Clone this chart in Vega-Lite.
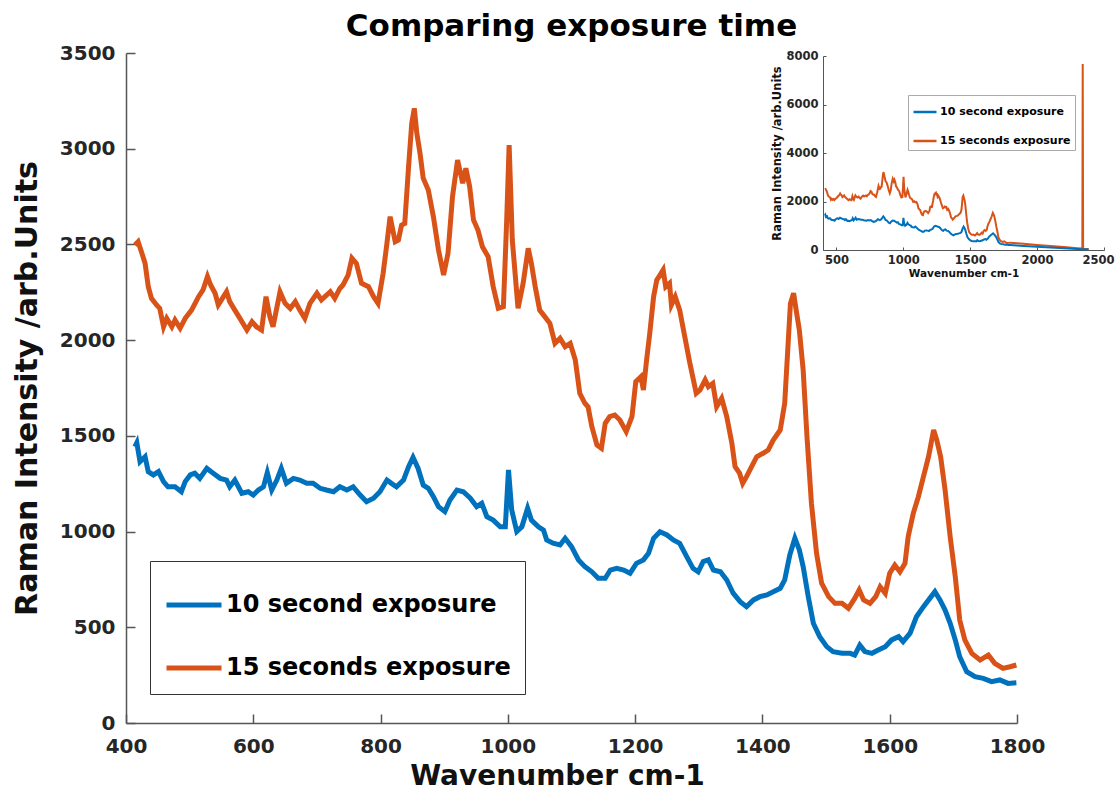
{
  "$schema": "https://vega.github.io/schema/vega-lite/v6.json",
  "width": 891,
  "height": 670,
  "autosize": {"type": "none"},
  "padding": {"left": 126, "top": 53, "right": 99, "bottom": 77},
  "background": "white",
  "title": {"text": "Comparing exposure time", "font": "DejaVu Sans", "fontSize": 31, "fontWeight": "bold", "color": "black", "anchor": "middle", "frame": "group", "dx": 0, "dy": 39, "baseline": "bottom", "offset": 8},
  "config": {
    "view": {"stroke": null},
    "axis": {"grid": false, "format": "d", "labelFont": "DejaVu Sans", "labelFontWeight": "bold", "titleFont": "DejaVu Sans", "titleFontWeight": "bold", "labelColor": "#262626", "titleColor": "#111111", "domainColor": "#555555", "tickColor": "#555555", "labelFlush": false, "labelOverlap": false},
    "legend": {"labelFont": "DejaVu Sans", "labelFontWeight": "bold", "labelColor": "black", "symbolType": "stroke", "fillColor": "white", "labelLimit": 0}
  },
  "data": {"values": [
    {"series": "15 seconds exposure", "wavenumber": 414, "intensity": 2497},
    {"series": "15 seconds exposure", "wavenumber": 419, "intensity": 2514},
    {"series": "15 seconds exposure", "wavenumber": 425, "intensity": 2454},
    {"series": "15 seconds exposure", "wavenumber": 430, "intensity": 2401},
    {"series": "15 seconds exposure", "wavenumber": 435, "intensity": 2279},
    {"series": "15 seconds exposure", "wavenumber": 440, "intensity": 2218},
    {"series": "15 seconds exposure", "wavenumber": 448, "intensity": 2184},
    {"series": "15 seconds exposure", "wavenumber": 453, "intensity": 2166},
    {"series": "15 seconds exposure", "wavenumber": 459, "intensity": 2070},
    {"series": "15 seconds exposure", "wavenumber": 464, "intensity": 2114},
    {"series": "15 seconds exposure", "wavenumber": 472, "intensity": 2070},
    {"series": "15 seconds exposure", "wavenumber": 477, "intensity": 2105},
    {"series": "15 seconds exposure", "wavenumber": 485, "intensity": 2062},
    {"series": "15 seconds exposure", "wavenumber": 493, "intensity": 2114},
    {"series": "15 seconds exposure", "wavenumber": 503, "intensity": 2157},
    {"series": "15 seconds exposure", "wavenumber": 514, "intensity": 2227},
    {"series": "15 seconds exposure", "wavenumber": 521, "intensity": 2262},
    {"series": "15 seconds exposure", "wavenumber": 528, "intensity": 2332},
    {"series": "15 seconds exposure", "wavenumber": 533, "intensity": 2288},
    {"series": "15 seconds exposure", "wavenumber": 540, "intensity": 2245},
    {"series": "15 seconds exposure", "wavenumber": 545, "intensity": 2184},
    {"series": "15 seconds exposure", "wavenumber": 550, "intensity": 2210},
    {"series": "15 seconds exposure", "wavenumber": 558, "intensity": 2253},
    {"series": "15 seconds exposure", "wavenumber": 563, "intensity": 2201},
    {"series": "15 seconds exposure", "wavenumber": 571, "intensity": 2157},
    {"series": "15 seconds exposure", "wavenumber": 579, "intensity": 2114},
    {"series": "15 seconds exposure", "wavenumber": 590, "intensity": 2053},
    {"series": "15 seconds exposure", "wavenumber": 598, "intensity": 2096},
    {"series": "15 seconds exposure", "wavenumber": 605, "intensity": 2070},
    {"series": "15 seconds exposure", "wavenumber": 613, "intensity": 2053},
    {"series": "15 seconds exposure", "wavenumber": 620, "intensity": 2227},
    {"series": "15 seconds exposure", "wavenumber": 626, "intensity": 2123},
    {"series": "15 seconds exposure", "wavenumber": 631, "intensity": 2070},
    {"series": "15 seconds exposure", "wavenumber": 642, "intensity": 2253},
    {"series": "15 seconds exposure", "wavenumber": 650, "intensity": 2192},
    {"series": "15 seconds exposure", "wavenumber": 658, "intensity": 2166},
    {"series": "15 seconds exposure", "wavenumber": 666, "intensity": 2201},
    {"series": "15 seconds exposure", "wavenumber": 673, "intensity": 2157},
    {"series": "15 seconds exposure", "wavenumber": 681, "intensity": 2114},
    {"series": "15 seconds exposure", "wavenumber": 689, "intensity": 2192},
    {"series": "15 seconds exposure", "wavenumber": 700, "intensity": 2245},
    {"series": "15 seconds exposure", "wavenumber": 707, "intensity": 2210},
    {"series": "15 seconds exposure", "wavenumber": 721, "intensity": 2253},
    {"series": "15 seconds exposure", "wavenumber": 728, "intensity": 2218},
    {"series": "15 seconds exposure", "wavenumber": 736, "intensity": 2270},
    {"series": "15 seconds exposure", "wavenumber": 741, "intensity": 2288},
    {"series": "15 seconds exposure", "wavenumber": 749, "intensity": 2340},
    {"series": "15 seconds exposure", "wavenumber": 755, "intensity": 2428},
    {"series": "15 seconds exposure", "wavenumber": 762, "intensity": 2401},
    {"series": "15 seconds exposure", "wavenumber": 770, "intensity": 2297},
    {"series": "15 seconds exposure", "wavenumber": 781, "intensity": 2279},
    {"series": "15 seconds exposure", "wavenumber": 789, "intensity": 2227},
    {"series": "15 seconds exposure", "wavenumber": 796, "intensity": 2192},
    {"series": "15 seconds exposure", "wavenumber": 804, "intensity": 2349},
    {"series": "15 seconds exposure", "wavenumber": 810, "intensity": 2506},
    {"series": "15 seconds exposure", "wavenumber": 815, "intensity": 2645},
    {"series": "15 seconds exposure", "wavenumber": 823, "intensity": 2514},
    {"series": "15 seconds exposure", "wavenumber": 828, "intensity": 2523},
    {"series": "15 seconds exposure", "wavenumber": 833, "intensity": 2601},
    {"series": "15 seconds exposure", "wavenumber": 838, "intensity": 2610},
    {"series": "15 seconds exposure", "wavenumber": 844, "intensity": 2906},
    {"series": "15 seconds exposure", "wavenumber": 849, "intensity": 3133},
    {"series": "15 seconds exposure", "wavenumber": 853, "intensity": 3211},
    {"series": "15 seconds exposure", "wavenumber": 857, "intensity": 3080},
    {"series": "15 seconds exposure", "wavenumber": 862, "intensity": 2976},
    {"series": "15 seconds exposure", "wavenumber": 867, "intensity": 2846},
    {"series": "15 seconds exposure", "wavenumber": 875, "intensity": 2784},
    {"series": "15 seconds exposure", "wavenumber": 883, "intensity": 2645},
    {"series": "15 seconds exposure", "wavenumber": 891, "intensity": 2471},
    {"series": "15 seconds exposure", "wavenumber": 899, "intensity": 2340},
    {"series": "15 seconds exposure", "wavenumber": 906, "intensity": 2454},
    {"series": "15 seconds exposure", "wavenumber": 913, "intensity": 2749},
    {"series": "15 seconds exposure", "wavenumber": 921, "intensity": 2941},
    {"series": "15 seconds exposure", "wavenumber": 929, "intensity": 2820},
    {"series": "15 seconds exposure", "wavenumber": 934, "intensity": 2898},
    {"series": "15 seconds exposure", "wavenumber": 940, "intensity": 2802},
    {"series": "15 seconds exposure", "wavenumber": 946, "intensity": 2628},
    {"series": "15 seconds exposure", "wavenumber": 953, "intensity": 2575},
    {"series": "15 seconds exposure", "wavenumber": 960, "intensity": 2488},
    {"series": "15 seconds exposure", "wavenumber": 969, "intensity": 2436},
    {"series": "15 seconds exposure", "wavenumber": 977, "intensity": 2279},
    {"series": "15 seconds exposure", "wavenumber": 985, "intensity": 2166},
    {"series": "15 seconds exposure", "wavenumber": 993, "intensity": 2175},
    {"series": "15 seconds exposure", "wavenumber": 998, "intensity": 2610},
    {"series": "15 seconds exposure", "wavenumber": 1002, "intensity": 3019},
    {"series": "15 seconds exposure", "wavenumber": 1007, "intensity": 2523},
    {"series": "15 seconds exposure", "wavenumber": 1016, "intensity": 2166},
    {"series": "15 seconds exposure", "wavenumber": 1024, "intensity": 2297},
    {"series": "15 seconds exposure", "wavenumber": 1032, "intensity": 2480},
    {"series": "15 seconds exposure", "wavenumber": 1037, "intensity": 2401},
    {"series": "15 seconds exposure", "wavenumber": 1043, "intensity": 2279},
    {"series": "15 seconds exposure", "wavenumber": 1050, "intensity": 2157},
    {"series": "15 seconds exposure", "wavenumber": 1058, "intensity": 2123},
    {"series": "15 seconds exposure", "wavenumber": 1066, "intensity": 2088},
    {"series": "15 seconds exposure", "wavenumber": 1074, "intensity": 1983},
    {"series": "15 seconds exposure", "wavenumber": 1082, "intensity": 2010},
    {"series": "15 seconds exposure", "wavenumber": 1090, "intensity": 1966},
    {"series": "15 seconds exposure", "wavenumber": 1098, "intensity": 1983},
    {"series": "15 seconds exposure", "wavenumber": 1106, "intensity": 1896},
    {"series": "15 seconds exposure", "wavenumber": 1113, "intensity": 1722},
    {"series": "15 seconds exposure", "wavenumber": 1121, "intensity": 1670},
    {"series": "15 seconds exposure", "wavenumber": 1126, "intensity": 1652},
    {"series": "15 seconds exposure", "wavenumber": 1132, "intensity": 1548},
    {"series": "15 seconds exposure", "wavenumber": 1140, "intensity": 1452},
    {"series": "15 seconds exposure", "wavenumber": 1147, "intensity": 1435},
    {"series": "15 seconds exposure", "wavenumber": 1153, "intensity": 1566},
    {"series": "15 seconds exposure", "wavenumber": 1160, "intensity": 1600},
    {"series": "15 seconds exposure", "wavenumber": 1168, "intensity": 1609},
    {"series": "15 seconds exposure", "wavenumber": 1176, "intensity": 1583},
    {"series": "15 seconds exposure", "wavenumber": 1186, "intensity": 1522},
    {"series": "15 seconds exposure", "wavenumber": 1195, "intensity": 1600},
    {"series": "15 seconds exposure", "wavenumber": 1201, "intensity": 1783},
    {"series": "15 seconds exposure", "wavenumber": 1209, "intensity": 1809},
    {"series": "15 seconds exposure", "wavenumber": 1213, "intensity": 1740},
    {"series": "15 seconds exposure", "wavenumber": 1218, "intensity": 1896},
    {"series": "15 seconds exposure", "wavenumber": 1223, "intensity": 2036},
    {"series": "15 seconds exposure", "wavenumber": 1229, "intensity": 2227},
    {"series": "15 seconds exposure", "wavenumber": 1234, "intensity": 2314},
    {"series": "15 seconds exposure", "wavenumber": 1239, "intensity": 2340},
    {"series": "15 seconds exposure", "wavenumber": 1244, "intensity": 2367},
    {"series": "15 seconds exposure", "wavenumber": 1248, "intensity": 2279},
    {"series": "15 seconds exposure", "wavenumber": 1254, "intensity": 2297},
    {"series": "15 seconds exposure", "wavenumber": 1257, "intensity": 2184},
    {"series": "15 seconds exposure", "wavenumber": 1263, "intensity": 2227},
    {"series": "15 seconds exposure", "wavenumber": 1270, "intensity": 2157},
    {"series": "15 seconds exposure", "wavenumber": 1278, "intensity": 2018},
    {"series": "15 seconds exposure", "wavenumber": 1286, "intensity": 1879},
    {"series": "15 seconds exposure", "wavenumber": 1296, "intensity": 1722},
    {"series": "15 seconds exposure", "wavenumber": 1302, "intensity": 1740},
    {"series": "15 seconds exposure", "wavenumber": 1310, "intensity": 1792},
    {"series": "15 seconds exposure", "wavenumber": 1315, "intensity": 1757},
    {"series": "15 seconds exposure", "wavenumber": 1322, "intensity": 1774},
    {"series": "15 seconds exposure", "wavenumber": 1328, "intensity": 1652},
    {"series": "15 seconds exposure", "wavenumber": 1336, "intensity": 1696},
    {"series": "15 seconds exposure", "wavenumber": 1344, "intensity": 1600},
    {"series": "15 seconds exposure", "wavenumber": 1352, "intensity": 1461},
    {"series": "15 seconds exposure", "wavenumber": 1357, "intensity": 1339},
    {"series": "15 seconds exposure", "wavenumber": 1364, "intensity": 1305},
    {"series": "15 seconds exposure", "wavenumber": 1369, "intensity": 1252},
    {"series": "15 seconds exposure", "wavenumber": 1375, "intensity": 1287},
    {"series": "15 seconds exposure", "wavenumber": 1383, "intensity": 1339},
    {"series": "15 seconds exposure", "wavenumber": 1391, "intensity": 1391},
    {"series": "15 seconds exposure", "wavenumber": 1401, "intensity": 1409},
    {"series": "15 seconds exposure", "wavenumber": 1409, "intensity": 1426},
    {"series": "15 seconds exposure", "wavenumber": 1417, "intensity": 1478},
    {"series": "15 seconds exposure", "wavenumber": 1428, "intensity": 1531},
    {"series": "15 seconds exposure", "wavenumber": 1435, "intensity": 1670},
    {"series": "15 seconds exposure", "wavenumber": 1441, "intensity": 2018},
    {"series": "15 seconds exposure", "wavenumber": 1444, "intensity": 2192},
    {"series": "15 seconds exposure", "wavenumber": 1449, "intensity": 2245},
    {"series": "15 seconds exposure", "wavenumber": 1453, "intensity": 2157},
    {"series": "15 seconds exposure", "wavenumber": 1458, "intensity": 2053},
    {"series": "15 seconds exposure", "wavenumber": 1464, "intensity": 1844},
    {"series": "15 seconds exposure", "wavenumber": 1470, "intensity": 1496},
    {"series": "15 seconds exposure", "wavenumber": 1477, "intensity": 1148},
    {"series": "15 seconds exposure", "wavenumber": 1485, "intensity": 887},
    {"series": "15 seconds exposure", "wavenumber": 1493, "intensity": 730},
    {"series": "15 seconds exposure", "wavenumber": 1504, "intensity": 660},
    {"series": "15 seconds exposure", "wavenumber": 1514, "intensity": 625},
    {"series": "15 seconds exposure", "wavenumber": 1525, "intensity": 625},
    {"series": "15 seconds exposure", "wavenumber": 1535, "intensity": 599},
    {"series": "15 seconds exposure", "wavenumber": 1545, "intensity": 651},
    {"series": "15 seconds exposure", "wavenumber": 1552, "intensity": 695},
    {"series": "15 seconds exposure", "wavenumber": 1559, "intensity": 643},
    {"series": "15 seconds exposure", "wavenumber": 1569, "intensity": 625},
    {"series": "15 seconds exposure", "wavenumber": 1578, "intensity": 660},
    {"series": "15 seconds exposure", "wavenumber": 1585, "intensity": 712},
    {"series": "15 seconds exposure", "wavenumber": 1593, "intensity": 678},
    {"series": "15 seconds exposure", "wavenumber": 1600, "intensity": 782},
    {"series": "15 seconds exposure", "wavenumber": 1608, "intensity": 825},
    {"series": "15 seconds exposure", "wavenumber": 1616, "intensity": 790},
    {"series": "15 seconds exposure", "wavenumber": 1624, "intensity": 834},
    {"series": "15 seconds exposure", "wavenumber": 1629, "intensity": 973},
    {"series": "15 seconds exposure", "wavenumber": 1637, "intensity": 1095},
    {"series": "15 seconds exposure", "wavenumber": 1645, "intensity": 1182},
    {"series": "15 seconds exposure", "wavenumber": 1653, "intensity": 1287},
    {"series": "15 seconds exposure", "wavenumber": 1661, "intensity": 1391},
    {"series": "15 seconds exposure", "wavenumber": 1669, "intensity": 1531},
    {"series": "15 seconds exposure", "wavenumber": 1674, "intensity": 1478},
    {"series": "15 seconds exposure", "wavenumber": 1680, "intensity": 1391},
    {"series": "15 seconds exposure", "wavenumber": 1687, "intensity": 1217},
    {"series": "15 seconds exposure", "wavenumber": 1695, "intensity": 973},
    {"series": "15 seconds exposure", "wavenumber": 1703, "intensity": 764},
    {"series": "15 seconds exposure", "wavenumber": 1710, "intensity": 538},
    {"series": "15 seconds exposure", "wavenumber": 1718, "intensity": 434},
    {"series": "15 seconds exposure", "wavenumber": 1729, "intensity": 364},
    {"series": "15 seconds exposure", "wavenumber": 1742, "intensity": 329},
    {"series": "15 seconds exposure", "wavenumber": 1755, "intensity": 355},
    {"series": "15 seconds exposure", "wavenumber": 1765, "intensity": 312},
    {"series": "15 seconds exposure", "wavenumber": 1778, "intensity": 285},
    {"series": "15 seconds exposure", "wavenumber": 1789, "intensity": 294},
    {"series": "15 seconds exposure", "wavenumber": 1799, "intensity": 303},
    {"series": "15 seconds exposure", "wavenumber": 1850, "intensity": 280},
    {"series": "15 seconds exposure", "wavenumber": 1900, "intensity": 255},
    {"series": "15 seconds exposure", "wavenumber": 2000, "intensity": 205},
    {"series": "15 seconds exposure", "wavenumber": 2100, "intensity": 165},
    {"series": "15 seconds exposure", "wavenumber": 2200, "intensity": 120},
    {"series": "15 seconds exposure", "wavenumber": 2300, "intensity": 75},
    {"series": "15 seconds exposure", "wavenumber": 2338, "intensity": 60},
    {"series": "15 seconds exposure", "wavenumber": 2341, "intensity": 7670},
    {"series": "15 seconds exposure", "wavenumber": 2344, "intensity": 55},
    {"series": "15 seconds exposure", "wavenumber": 2385, "intensity": 45},
    {"series": "10 second exposure", "wavenumber": 414, "intensity": 1443},
    {"series": "10 second exposure", "wavenumber": 417, "intensity": 1464},
    {"series": "10 second exposure", "wavenumber": 422, "intensity": 1365},
    {"series": "10 second exposure", "wavenumber": 430, "intensity": 1391},
    {"series": "10 second exposure", "wavenumber": 435, "intensity": 1313},
    {"series": "10 second exposure", "wavenumber": 443, "intensity": 1296},
    {"series": "10 second exposure", "wavenumber": 451, "intensity": 1313},
    {"series": "10 second exposure", "wavenumber": 459, "intensity": 1261},
    {"series": "10 second exposure", "wavenumber": 466, "intensity": 1234},
    {"series": "10 second exposure", "wavenumber": 477, "intensity": 1234},
    {"series": "10 second exposure", "wavenumber": 487, "intensity": 1208},
    {"series": "10 second exposure", "wavenumber": 493, "intensity": 1261},
    {"series": "10 second exposure", "wavenumber": 501, "intensity": 1296},
    {"series": "10 second exposure", "wavenumber": 508, "intensity": 1305},
    {"series": "10 second exposure", "wavenumber": 516, "intensity": 1278},
    {"series": "10 second exposure", "wavenumber": 527, "intensity": 1330},
    {"series": "10 second exposure", "wavenumber": 537, "intensity": 1305},
    {"series": "10 second exposure", "wavenumber": 548, "intensity": 1278},
    {"series": "10 second exposure", "wavenumber": 558, "intensity": 1269},
    {"series": "10 second exposure", "wavenumber": 563, "intensity": 1234},
    {"series": "10 second exposure", "wavenumber": 571, "intensity": 1269},
    {"series": "10 second exposure", "wavenumber": 582, "intensity": 1200},
    {"series": "10 second exposure", "wavenumber": 592, "intensity": 1208},
    {"series": "10 second exposure", "wavenumber": 600, "intensity": 1191},
    {"series": "10 second exposure", "wavenumber": 608, "intensity": 1217},
    {"series": "10 second exposure", "wavenumber": 616, "intensity": 1234},
    {"series": "10 second exposure", "wavenumber": 622, "intensity": 1308},
    {"series": "10 second exposure", "wavenumber": 629, "intensity": 1217},
    {"series": "10 second exposure", "wavenumber": 637, "intensity": 1269},
    {"series": "10 second exposure", "wavenumber": 644, "intensity": 1330},
    {"series": "10 second exposure", "wavenumber": 652, "intensity": 1252},
    {"series": "10 second exposure", "wavenumber": 663, "intensity": 1278},
    {"series": "10 second exposure", "wavenumber": 673, "intensity": 1269},
    {"series": "10 second exposure", "wavenumber": 684, "intensity": 1252},
    {"series": "10 second exposure", "wavenumber": 694, "intensity": 1252},
    {"series": "10 second exposure", "wavenumber": 705, "intensity": 1226},
    {"series": "10 second exposure", "wavenumber": 715, "intensity": 1217},
    {"series": "10 second exposure", "wavenumber": 726, "intensity": 1208},
    {"series": "10 second exposure", "wavenumber": 736, "intensity": 1234},
    {"series": "10 second exposure", "wavenumber": 747, "intensity": 1217},
    {"series": "10 second exposure", "wavenumber": 757, "intensity": 1234},
    {"series": "10 second exposure", "wavenumber": 768, "intensity": 1191},
    {"series": "10 second exposure", "wavenumber": 778, "intensity": 1156},
    {"series": "10 second exposure", "wavenumber": 789, "intensity": 1174},
    {"series": "10 second exposure", "wavenumber": 799, "intensity": 1208},
    {"series": "10 second exposure", "wavenumber": 810, "intensity": 1269},
    {"series": "10 second exposure", "wavenumber": 817, "intensity": 1252},
    {"series": "10 second exposure", "wavenumber": 825, "intensity": 1234},
    {"series": "10 second exposure", "wavenumber": 836, "intensity": 1269},
    {"series": "10 second exposure", "wavenumber": 844, "intensity": 1339},
    {"series": "10 second exposure", "wavenumber": 851, "intensity": 1388},
    {"series": "10 second exposure", "wavenumber": 859, "intensity": 1330},
    {"series": "10 second exposure", "wavenumber": 867, "intensity": 1243},
    {"series": "10 second exposure", "wavenumber": 875, "intensity": 1226},
    {"series": "10 second exposure", "wavenumber": 883, "intensity": 1182},
    {"series": "10 second exposure", "wavenumber": 891, "intensity": 1130},
    {"series": "10 second exposure", "wavenumber": 901, "intensity": 1104},
    {"series": "10 second exposure", "wavenumber": 909, "intensity": 1165},
    {"series": "10 second exposure", "wavenumber": 920, "intensity": 1217},
    {"series": "10 second exposure", "wavenumber": 930, "intensity": 1208},
    {"series": "10 second exposure", "wavenumber": 941, "intensity": 1174},
    {"series": "10 second exposure", "wavenumber": 951, "intensity": 1130},
    {"series": "10 second exposure", "wavenumber": 959, "intensity": 1148},
    {"series": "10 second exposure", "wavenumber": 967, "intensity": 1078},
    {"series": "10 second exposure", "wavenumber": 977, "intensity": 1060},
    {"series": "10 second exposure", "wavenumber": 988, "intensity": 1025},
    {"series": "10 second exposure", "wavenumber": 996, "intensity": 1025},
    {"series": "10 second exposure", "wavenumber": 1001, "intensity": 1322},
    {"series": "10 second exposure", "wavenumber": 1006, "intensity": 1113},
    {"series": "10 second exposure", "wavenumber": 1014, "intensity": 1000},
    {"series": "10 second exposure", "wavenumber": 1022, "intensity": 1025},
    {"series": "10 second exposure", "wavenumber": 1031, "intensity": 1122},
    {"series": "10 second exposure", "wavenumber": 1037, "intensity": 1060},
    {"series": "10 second exposure", "wavenumber": 1048, "intensity": 1025},
    {"series": "10 second exposure", "wavenumber": 1056, "intensity": 1008},
    {"series": "10 second exposure", "wavenumber": 1061, "intensity": 956},
    {"series": "10 second exposure", "wavenumber": 1071, "intensity": 939},
    {"series": "10 second exposure", "wavenumber": 1082, "intensity": 930},
    {"series": "10 second exposure", "wavenumber": 1090, "intensity": 965},
    {"series": "10 second exposure", "wavenumber": 1100, "intensity": 921},
    {"series": "10 second exposure", "wavenumber": 1111, "intensity": 852},
    {"series": "10 second exposure", "wavenumber": 1121, "intensity": 817},
    {"series": "10 second exposure", "wavenumber": 1132, "intensity": 790},
    {"series": "10 second exposure", "wavenumber": 1142, "intensity": 756},
    {"series": "10 second exposure", "wavenumber": 1153, "intensity": 756},
    {"series": "10 second exposure", "wavenumber": 1161, "intensity": 799},
    {"series": "10 second exposure", "wavenumber": 1171, "intensity": 808},
    {"series": "10 second exposure", "wavenumber": 1182, "intensity": 799},
    {"series": "10 second exposure", "wavenumber": 1192, "intensity": 782},
    {"series": "10 second exposure", "wavenumber": 1202, "intensity": 834},
    {"series": "10 second exposure", "wavenumber": 1213, "intensity": 852},
    {"series": "10 second exposure", "wavenumber": 1221, "intensity": 886},
    {"series": "10 second exposure", "wavenumber": 1229, "intensity": 965},
    {"series": "10 second exposure", "wavenumber": 1239, "intensity": 999},
    {"series": "10 second exposure", "wavenumber": 1250, "intensity": 982},
    {"series": "10 second exposure", "wavenumber": 1260, "intensity": 956},
    {"series": "10 second exposure", "wavenumber": 1270, "intensity": 939},
    {"series": "10 second exposure", "wavenumber": 1281, "intensity": 869},
    {"series": "10 second exposure", "wavenumber": 1291, "intensity": 808},
    {"series": "10 second exposure", "wavenumber": 1299, "intensity": 790},
    {"series": "10 second exposure", "wavenumber": 1307, "intensity": 843},
    {"series": "10 second exposure", "wavenumber": 1315, "intensity": 852},
    {"series": "10 second exposure", "wavenumber": 1323, "intensity": 799},
    {"series": "10 second exposure", "wavenumber": 1334, "intensity": 790},
    {"series": "10 second exposure", "wavenumber": 1344, "intensity": 747},
    {"series": "10 second exposure", "wavenumber": 1354, "intensity": 678},
    {"series": "10 second exposure", "wavenumber": 1365, "intensity": 634},
    {"series": "10 second exposure", "wavenumber": 1375, "intensity": 608},
    {"series": "10 second exposure", "wavenumber": 1386, "intensity": 643},
    {"series": "10 second exposure", "wavenumber": 1396, "intensity": 660},
    {"series": "10 second exposure", "wavenumber": 1407, "intensity": 669},
    {"series": "10 second exposure", "wavenumber": 1417, "intensity": 686},
    {"series": "10 second exposure", "wavenumber": 1428, "intensity": 704},
    {"series": "10 second exposure", "wavenumber": 1435, "intensity": 747},
    {"series": "10 second exposure", "wavenumber": 1443, "intensity": 878},
    {"series": "10 second exposure", "wavenumber": 1451, "intensity": 965},
    {"series": "10 second exposure", "wavenumber": 1458, "intensity": 904},
    {"series": "10 second exposure", "wavenumber": 1464, "intensity": 817},
    {"series": "10 second exposure", "wavenumber": 1472, "intensity": 660},
    {"series": "10 second exposure", "wavenumber": 1480, "intensity": 521},
    {"series": "10 second exposure", "wavenumber": 1490, "intensity": 451},
    {"series": "10 second exposure", "wavenumber": 1501, "intensity": 399},
    {"series": "10 second exposure", "wavenumber": 1511, "intensity": 373},
    {"series": "10 second exposure", "wavenumber": 1525, "intensity": 364},
    {"series": "10 second exposure", "wavenumber": 1538, "intensity": 364},
    {"series": "10 second exposure", "wavenumber": 1545, "intensity": 355},
    {"series": "10 second exposure", "wavenumber": 1553, "intensity": 407},
    {"series": "10 second exposure", "wavenumber": 1561, "intensity": 373},
    {"series": "10 second exposure", "wavenumber": 1572, "intensity": 364},
    {"series": "10 second exposure", "wavenumber": 1582, "intensity": 381},
    {"series": "10 second exposure", "wavenumber": 1593, "intensity": 399},
    {"series": "10 second exposure", "wavenumber": 1603, "intensity": 434},
    {"series": "10 second exposure", "wavenumber": 1614, "intensity": 451},
    {"series": "10 second exposure", "wavenumber": 1621, "intensity": 425},
    {"series": "10 second exposure", "wavenumber": 1632, "intensity": 469},
    {"series": "10 second exposure", "wavenumber": 1642, "intensity": 555},
    {"series": "10 second exposure", "wavenumber": 1653, "intensity": 608},
    {"series": "10 second exposure", "wavenumber": 1663, "intensity": 651},
    {"series": "10 second exposure", "wavenumber": 1671, "intensity": 686},
    {"series": "10 second exposure", "wavenumber": 1679, "intensity": 643},
    {"series": "10 second exposure", "wavenumber": 1687, "intensity": 590},
    {"series": "10 second exposure", "wavenumber": 1695, "intensity": 521},
    {"series": "10 second exposure", "wavenumber": 1703, "intensity": 434},
    {"series": "10 second exposure", "wavenumber": 1710, "intensity": 346},
    {"series": "10 second exposure", "wavenumber": 1721, "intensity": 268},
    {"series": "10 second exposure", "wavenumber": 1734, "intensity": 242},
    {"series": "10 second exposure", "wavenumber": 1747, "intensity": 233},
    {"series": "10 second exposure", "wavenumber": 1760, "intensity": 216},
    {"series": "10 second exposure", "wavenumber": 1773, "intensity": 225},
    {"series": "10 second exposure", "wavenumber": 1786, "intensity": 207},
    {"series": "10 second exposure", "wavenumber": 1799, "intensity": 210},
    {"series": "10 second exposure", "wavenumber": 1850, "intensity": 190},
    {"series": "10 second exposure", "wavenumber": 1900, "intensity": 170},
    {"series": "10 second exposure", "wavenumber": 2000, "intensity": 135},
    {"series": "10 second exposure", "wavenumber": 2100, "intensity": 100},
    {"series": "10 second exposure", "wavenumber": 2200, "intensity": 70},
    {"series": "10 second exposure", "wavenumber": 2300, "intensity": 40},
    {"series": "10 second exposure", "wavenumber": 2385, "intensity": 20}
  ]},
  "layer": [
    {
      "transform": [{"filter": "datum.wavenumber <= 1800"}],
      "mark": {"type": "line", "strokeWidth": 5, "clip": true},
      "encoding": {
        "x": {"field": "wavenumber", "type": "quantitative", "scale": {"domain": [400, 1800], "nice": false, "zero": false},
          "axis": {"orient": "bottom", "title": "Wavenumber cm-1", "values": [400, 600, 800, 1000, 1200, 1400, 1600, 1800], "labelFontSize": 20, "titleFontSize": 28, "tickSize": -9, "tickWidth": 1.5, "domainWidth": 1.5, "labelPadding": 22, "titlePadding": 6, "titleX": 431}},
        "y": {"field": "intensity", "type": "quantitative", "scale": {"domain": [0, 3500], "nice": false},
          "axis": {"orient": "left", "title": "Raman Intensity /arb.Units", "values": [0, 500, 1000, 1500, 2000, 2500, 3000, 3500], "labelFontSize": 20, "titleFontSize": 30, "tickSize": -9, "tickWidth": 1.5, "domainWidth": 1.5, "labelPadding": 20, "titlePadding": 17}},
        "color": {"field": "series", "type": "nominal", "scale": {"domain": ["10 second exposure", "15 seconds exposure"], "range": ["#0072BD", "#D95319"]},
          "legend": {"title": null, "orient": "none", "legendX": 24, "legendY": 508, "padding": 14, "labelFontSize": 24, "labelOffset": 2, "symbolSize": 3025, "symbolStrokeWidth": 5, "rowPadding": 21, "strokeColor": "#333333"}}
      }
    },
    {
      "mark": {"type": "line", "strokeWidth": 2},
      "encoding": {
        "x": {"field": "wavenumber", "type": "quantitative", "scale": {"domain": [400, 2500], "nice": false, "zero": false, "range": [697, 978]},
          "axis": {"orient": "bottom", "offset": -473, "title": "Wavenumber cm-1", "values": [500, 1000, 1500, 2000, 2500], "labelFontSize": 11.5, "titleFontSize": 10.5, "tickSize": -3, "labelPadding": 7, "titlePadding": 3, "labelFlush": 1, "labelFlushOffset": 10}},
        "y": {"field": "intensity", "type": "quantitative", "scale": {"domain": [0, 8000], "nice": false, "range": [197, 3]},
          "axis": {"orient": "left", "offset": -697, "title": "Raman Intensity /arb.Units", "values": [0, 2000, 4000, 6000, 8000], "labelFontSize": 11.5, "titleFontSize": 11.5, "tickSize": -3, "labelPadding": 8, "titlePadding": 3}},
        "color": {"field": "series", "type": "nominal", "scale": {"domain": ["10 second exposure", "15 seconds exposure"], "range": ["#0072BD", "#D95319"]},
          "legend": {"title": null, "orient": "none", "legendX": 782, "legendY": 42, "padding": 4, "labelFontSize": 11, "labelOffset": 2, "symbolSize": 529, "symbolStrokeWidth": 2.5, "rowPadding": 11, "strokeColor": "#aaaaaa"}}
      }
    }
  ],
  "resolve": {
    "scale": {"x": "independent", "y": "independent", "color": "independent"},
    "axis": {"x": "independent", "y": "independent"},
    "legend": {"color": "independent"}
  }
}
